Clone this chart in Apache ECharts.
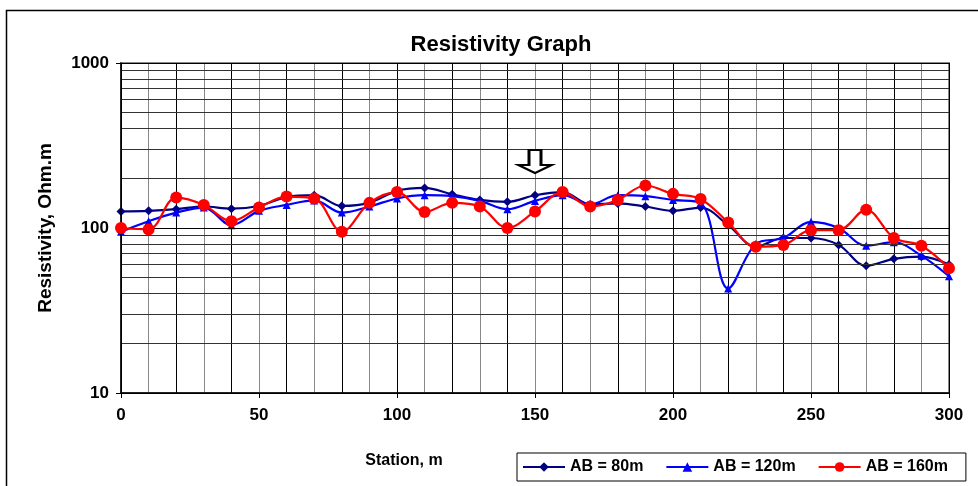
<!DOCTYPE html>
<html><head><meta charset="utf-8">
<script src="https://cdn.jsdelivr.net/npm/echarts@6/dist/echarts.min.js"></script>
<style>html,body{margin:0;padding:0;background:#fff}#c{width:978px;height:486px}</style>
</head><body><div id="c"></div>
<script>
var stations = [0,10,20,30,40,50,60,70,80,90,100,110,120,130,140,150,160,170,180,190,200,210,220,230,240,250,260,270,280,290,300];
var ab80  = [126,127,130,135,131,136,154,158,136,142,168,175,160,148,144,158,165,139,141,135,127,133,104,77,87,87,79,59,65,67,60];
var ab120 = [95,110,124,133,104,127,138,147,124,135,151,158,156,146,130,146,158,139,158,156,148,142,43,80,87,109,100,78,82,68,51];
var ab160 = [100,98,153,138,110,133,155,151,95,142,165,125,142,135,100,126,165,135,148,181,161,150,108,77,79,97,97,129,87,78,57];
var yTicks = [10,100,1000];
var minorGrid = [20,30,40,50,60,70,80,90,200,300,400,500,600,700,800,900];
var arrowAt = [150,253];

function pairs(v){ return stations.map(function(s,i){ return [s, v[i]]; }); }
var font = 'Liberation Sans, Arial, sans-serif';
var chart = echarts.init(document.getElementById('c'));
chart.setOption({
  animation:false,
  backgroundColor:'#fff',
  title:{text:'Resistivity Graph', left:496, top:29, textAlign:'center',
    textStyle:{fontFamily:font, fontWeight:'bold', fontSize:22, color:'#000'}},
  grid:{left:121, right:29, top:63, bottom:93, show:true, borderColor:'#888', borderWidth:2, backgroundColor:'transparent'},
  graphic:[{type:'rect', shape:{x:6.5, y:10.5, width:1000, height:500}, style:{fill:'none', stroke:'#000', lineWidth:1.5}, silent:true, z:-1}],
  legend:{left:517, top:453, orient:'horizontal',
    borderColor:'#000', borderWidth:1, padding:[6,18,6,5], itemGap:22,
    itemWidth:42, itemHeight:12,
    textStyle:{fontFamily:font, fontWeight:'bold', fontSize:16, color:'#000'},
    data:['AB = 80m','AB = 120m','AB = 160m']},
  xAxis:[{type:'value', min:0, max:300, interval:50,
    name:'Station, m', nameLocation:'middle', nameGap:60,
    nameTextStyle:{fontFamily:font, fontWeight:'bold', fontSize:16, color:'#000', padding:[0,262,0,0]},
    axisLine:{lineStyle:{color:'#000', width:1.5}},
    axisTick:{show:true, length:5, inside:false, lineStyle:{color:'#000'}},
    axisLabel:{fontFamily:font, fontWeight:'bold', fontSize:17, color:'#000', margin:14},
    splitLine:{show:false}, z:5},
   {type:'value', min:0, max:300, interval:10, show:true, position:'bottom',
    axisLine:{show:false}, axisTick:{show:false}, axisLabel:{show:false},
    splitLine:{show:true, lineStyle:{color:['#000','#888'], width:1}}}],
  yAxis:{type:'log', logBase:10, min:10, max:1000,
    name:'Resistivity, Ohm.m', nameLocation:'middle', nameGap:66, nameRotate:90,
    nameTextStyle:{fontFamily:font, fontWeight:'bold', fontSize:19, color:'#000'},
    axisLine:{show:true, lineStyle:{color:'#000', width:1.5}},
    axisTick:{show:true, length:5, lineStyle:{color:'#000'}},
    axisLabel:{fontFamily:font, fontWeight:'bold', fontSize:17, color:'#000', margin:12,
      formatter:function(v){ return yTicks.indexOf(Math.round(v))>=0 ? String(Math.round(v)) : ''; }},
    splitLine:{show:true, lineStyle:{color:'#000', width:1}}, z:5},
  series:[
    {name:'AB = 80m', type:'line', data:pairs(ab80), smooth:0.35, symbol:'diamond', symbolSize:9,
     itemStyle:{color:'#000080'}, lineStyle:{color:'#000080', width:2.2}, z:3,
     markLine:{silent:true, symbol:'none', label:{show:false}, animation:false,
       lineStyle:{color:'#333', width:1, type:'solid'},
       data:minorGrid.map(function(v){ return {yAxis:v}; })},
     markPoint:{silent:true, symbol:'path://M10.5,0 L22.5,0 L22.5,15 L33,15 L16.5,23 L0,15 L10.5,15 Z',
       symbolSize:[33,23], itemStyle:{color:'#fff', borderColor:'#000', borderWidth:2.5},
       label:{show:false}, data:[{coord:arrowAt}]}},
    {name:'AB = 120m', type:'line', data:pairs(ab120), smooth:0.35, symbol:'triangle', symbolSize:8,
     itemStyle:{color:'#0000FF'}, lineStyle:{color:'#0000FF', width:2.2}, z:4},
    {name:'AB = 160m', type:'line', data:pairs(ab160), smooth:0.35, symbol:'circle', symbolSize:12,
     itemStyle:{color:'#FF0000'}, lineStyle:{color:'#FF0000', width:2.2}, z:5}
  ]
});
</script></body></html>
